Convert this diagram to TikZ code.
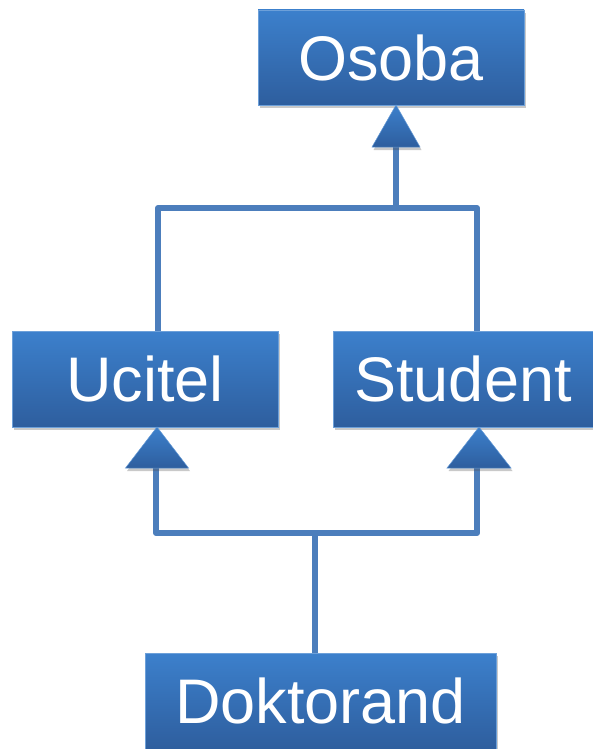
\documentclass[tikz,border=0pt]{standalone}
\usepackage{fontspec}
\setmainfont{Liberation Sans}
\usetikzlibrary{shadows}
\definecolor{boxtop}{RGB}{60,128,204}
\definecolor{boxbot}{RGB}{46,94,158}
\definecolor{linec}{RGB}{76,126,188}
\begin{document}
\begin{tikzpicture}[x=1pt,y=-1pt,
  shad/.style={drop shadow={shadow xshift=1.5pt, shadow yshift=-3pt, opacity=0.3, fill=black!70}},
  cls/.style={draw=boxtop!75!white, line width=0.8pt, top color=boxtop, bottom color=boxbot,
    text=white, font=\fontsize{63}{70}\selectfont, inner sep=0pt, shad},
  tri/.style={draw=boxtop!80!white, line width=0.5pt, top color=boxtop, bottom color=boxbot, shad},
  conn/.style={draw=linec, line width=6pt, line join=round}]
\useasboundingbox (0,0) rectangle (592,749);
% coordinates of connector ends
\coordinate (obase) at (396,147);
\coordinate (j1) at (396,208);
\coordinate (ut) at (158,334);
\coordinate (st) at (477,334);
\coordinate (ubase) at (156,468);
\coordinate (sbase) at (477,468);
\coordinate (j2) at (315,533);
\coordinate (dtop) at (315,655);
% connectors
\draw[conn] (ut) |- (j1) -| (st);
\draw[conn] (obase) -- (j1);
\draw[conn] (ubase) |- (j2) -| (sbase);
\draw[conn] (j2) -- (dtop);
% classes
\node[cls, minimum width=266pt, minimum height=95pt] (osoba) at (391,57.5) {Osoba};
\node[cls, minimum width=266pt, minimum height=96pt] (ucitel) at (145,379) {Ucitel};
\node[cls, minimum width=260pt, minimum height=96pt] (student) at (463,379) {Student};
\node[cls, minimum width=351pt, minimum height=96pt] (doktorand) at (320.5,701) {Doktorand};
% generalization arrowheads
\coordinate (oapex) at (396,105);
\coordinate (uapex) at (157,427);
\coordinate (sapex) at (479,427);
\path[tri] (oapex) -- ++(-24,42) -- ++(48,0) -- cycle;
\path[tri] (uapex) -- ++(-31.5,41) -- ++(63,0) -- cycle;
\path[tri] (sapex) -- ++(-32,41) -- ++(64,0) -- cycle;
\end{tikzpicture}
\end{document}
